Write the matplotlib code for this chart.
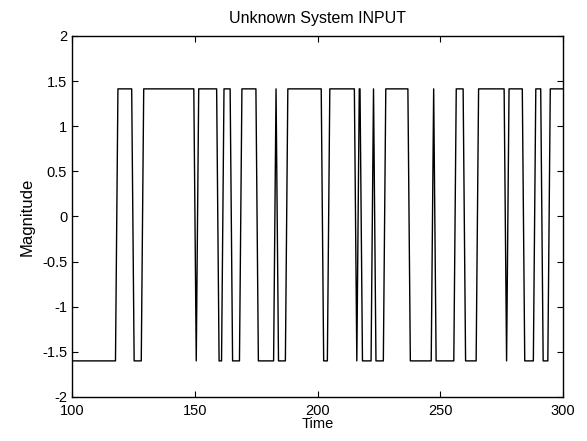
import numpy as np
import matplotlib
matplotlib.use("Agg")
import matplotlib.pyplot as plt

plt.rcParams['font.family'] = ['Liberation Sans', 'DejaVu Sans']

# signal levels
high_level = 1.414
low_level = -1.6

# flat tops of the high pulses (start, end), everything else sits at the low level
high_start = [118.7, 129.2, 151.6, 161.9, 169.2, 183.1, 187.9, 205.0, 217.0, 222.8,
              227.8, 247.3, 256.5, 265.6, 278.0, 288.9, 294.8]
high_end = [124.3, 149.6, 158.9, 164.4, 174.9, 183.1, 201.5, 215.0, 217.3, 222.8,
            236.8, 247.3, 259.3, 276.0, 283.4, 290.9, 300.0]

t_start, t_end = 100, 300
ramp = 1.0  # one sample to switch level

x = [t_start]
y = [low_level]
for s, e in zip(high_start, high_end):
    x += [s - ramp, s, e]
    y += [low_level, high_level, high_level]
    if e < t_end:
        x.append(e + ramp)
        y.append(low_level)
if x[-1] < t_end:
    x.append(t_end)
    y.append(y[-1])

fig = plt.figure(figsize=(5.87, 4.41), dpi=100)
ax = fig.add_axes([0.1227, 0.0998, 0.8365, 0.8186])
ax.plot(x, y, color='k', linewidth=1.0)

ax.set_xlim(t_start, t_end)
ax.set_ylim(-2, 2)
ax.set_xticks([100, 150, 200, 250, 300])
ax.set_yticks(np.arange(-2, 2.01, 0.5))
ax.set_yticklabels(['-2', '-1.5', '-1', '-0.5', '0', '0.5', '1', '1.5', '2'])
ax.tick_params(direction='in', top=True, right=True, labelsize=10.5, length=4)
ax.tick_params(axis='x', pad=5)
for sp in ax.spines.values():
    sp.set_linewidth(1.0)

ax.set_title('Unknown System INPUT', fontsize=11.5, pad=9)
ax.set_xlabel('Time', fontsize=10.5, labelpad=-1)
ax.set_ylabel('Magnitude', fontsize=12, labelpad=5)

fig.savefig('out.png', dpi=100)
